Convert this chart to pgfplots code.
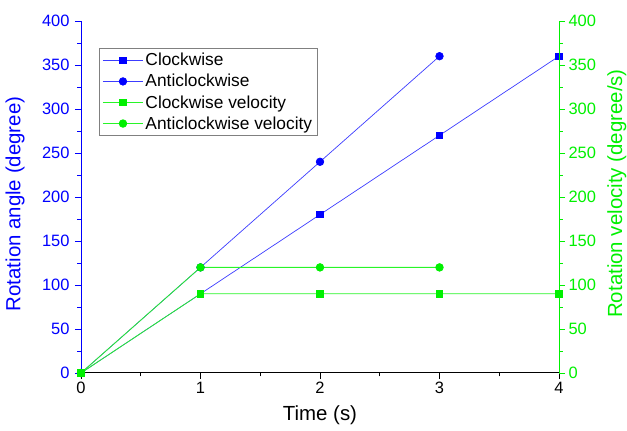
\documentclass[border=0pt]{standalone}
\usepackage{fontspec}
\setmainfont{Liberation Sans}
\usepackage{pgfplots}
\pgfplotsset{compat=1.18}
\definecolor{mblue}{RGB}{0,0,255}
\definecolor{lblue}{RGB}{60,60,255}
\definecolor{mgreen}{RGB}{0,240,0}
\definecolor{lgreen}{RGB}{40,245,40}
\begin{document}
\begin{tikzpicture}
\begin{axis}[
  name=ax,
  scale only axis, width=478bp, height=352bp,
  xmin=0, xmax=4, ymin=0, ymax=400,
  axis x line*=bottom, axis y line*=left,
  x axis line style={black, line width=1pt, -},
  y axis line style={mblue, line width=1pt, -},
  xtick={0,1,2,3,4}, minor xtick={0.5,1.5,2.5,3.5},
  ytick={0,50,...,400}, minor ytick={25,75,...,375},
  tick align=outside,
  major tick length=6bp, minor tick length=3.5bp,
  x tick style={black, line width=0.8pt},
  y tick style={mblue, line width=0.8pt},
  tick label style={font=\fontsize{16.5}{19}\selectfont},
  yticklabel style={mblue, xshift=-2bp},
  /pgf/number format/assume math mode=true,
  xlabel={Time (s)},
  ylabel={Rotation angle (degree)},
  xlabel style={font=\fontsize{20.5}{24}\selectfont, at={(axis description cs:0.5,-0.119)}, anchor=center},
  ylabel style={font=\fontsize{20.5}{24}\selectfont, mblue, at={(axis description cs:-0.138,0.48)}, anchor=center},
  clip=false,
  legend style={at={(axis description cs:0.038,0.923)}, anchor=north west,
    draw=gray, line width=0.6pt, font=\fontsize{17.4}{20.5}\selectfont,
    row sep=3bp, inner xsep=3pt, inner ysep=3pt},
  legend cell align=left,
  legend image code/.code={\draw[#1] (0cm,0cm) -- (1.42cm,0cm); \draw[#1, only marks, mark repeat=1] plot coordinates {(0.71cm,0cm)};},
]
\addplot[lblue, line width=0.7pt, mark=square*, mark size=3.2pt, mark options={mblue, solid}] coordinates {(0,0) (1,90) (2,180) (3,270) (4,360)};
\addlegendentry{Clockwise}
\addplot[lblue, line width=0.7pt, mark=*, mark size=3.8pt, mark options={mblue, solid}] coordinates {(0,0) (1,120) (2,240) (3,360)};
\addlegendentry{Anticlockwise}
\addplot[lgreen, line width=0.8pt, mark=square*, mark size=3.2pt, mark options={mgreen, solid}] coordinates {(0,0) (1,90) (2,90) (3,90) (4,90)};
\addlegendentry{Clockwise velocity}
\addplot[lgreen, line width=0.8pt, mark=*, mark size=3.8pt, mark options={mgreen, solid}] coordinates {(0,0) (1,120) (2,120) (3,120)};
\addlegendentry{Anticlockwise velocity}
\coordinate (bl) at (rel axis cs:0,0);
\coordinate (tr) at (rel axis cs:1,1);
\end{axis}
\begin{axis}[
  scale only axis, width=478bp, height=352bp,
  xmin=0, xmax=4, ymin=0, ymax=400,
  axis x line=none, axis y line*=right,
  y axis line style={mgreen, line width=1pt, -},
  ytick={0,50,...,400}, minor ytick={25,75,...,375},
  tick align=outside,
  major tick length=6bp, minor tick length=3.5bp,
  y tick style={mgreen, line width=0.8pt},
  tick label style={font=\fontsize{16.5}{19}\selectfont},
  yticklabel style={mgreen},
  /pgf/number format/assume math mode=true,
  ylabel={Rotation velocity (degree/s)},
  ylabel style={font=\fontsize{20.5}{24}\selectfont, mgreen, at={(axis description cs:1.121,0.51)}, anchor=center},
]
\addplot[draw=none, forget plot] coordinates {(0,0)};
\end{axis}
\pgfresetboundingbox
\path[use as bounding box] ([shift={(-81bp,-58bp)}]bl) rectangle ([shift={(68bp,21bp)}]tr);
\end{tikzpicture}
\end{document}
